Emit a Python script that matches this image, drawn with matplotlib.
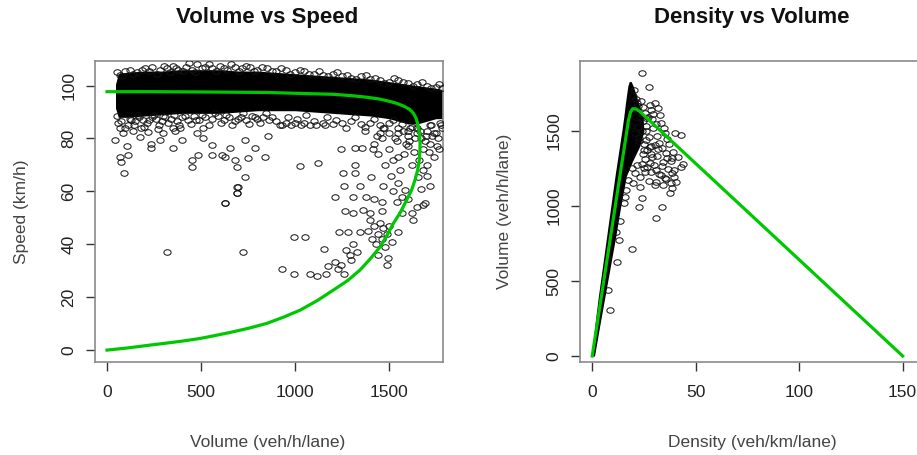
import matplotlib
matplotlib.use("Agg")
import matplotlib.pyplot as plt
from matplotlib.path import Path
from matplotlib.transforms import Affine2D

plt.rcParams['font.family'] = ['Liberation Sans', 'DejaVu Sans']

# ---------------- Left panel data: Volume vs Speed ----------------
# dense core of the observations (upper/lower edge of the black band)
band_vol = [45, 60, 100, 200, 300, 400, 500, 600, 700, 800, 900, 1000, 1100,
            1200, 1300, 1400, 1500, 1550, 1600, 1650, 1700, 1750, 1785]
band_hi = [100.5, 104.5, 105, 105.5, 105.5, 106, 106, 106, 105.5, 105.5, 105,
           104.5, 104, 103.5, 103, 102.5, 101.5, 101, 100.5, 100, 99.5, 99, 98.5]
band_lo = [91.5, 88, 88, 88.5, 89, 89.5, 89.5, 89.5, 90, 90.5, 90.5, 90.5, 90,
           89.5, 89, 88.5, 87.5, 86.5, 85.5, 85.5, 86.5, 87.5, 87.5]

top_vol = [55, 80, 120, 160, 200, 240, 280, 320, 350, 380, 420, 450, 480, 520,
           560, 600, 640, 680, 720, 760, 800, 850, 900, 950, 1000, 1050, 1100,
           1150, 1200, 1250, 1300, 1350, 1400, 1450, 1500, 1550, 1600, 1650,
           1700, 1750, 1780]
top_spd = [105, 103.5, 106, 105, 106.5, 107, 106, 106.5, 107.5, 106, 107, 106,
           108, 107, 106.5, 107.5, 106, 107, 106.5, 107, 106, 106.5, 105.5,
           106, 105, 105.5, 104.5, 104, 104.5, 103.5, 103, 103.5, 102.5, 102,
           101.5, 102, 101, 100.5, 100, 99.5, 99]
top2_vol = [70, 95, 140, 185, 225, 265, 305, 335, 365, 405, 435, 470, 505, 540,
            580, 620, 660, 700, 740, 780, 825, 875, 925, 975, 1025, 1075, 1125,
            1175, 1225, 1275, 1325, 1375, 1425, 1475, 1525, 1575, 1625, 1675,
            1725, 1765]
top2_spd = [104, 105.5, 104.5, 106, 105.5, 104.5, 107.5, 105, 106.5, 105.5,
            108.5, 105, 106.5, 108, 105.5, 106.5, 108, 105.5, 107.5, 105.5, 107,
            105.5, 106.5, 104.5, 106, 104.5, 105.5, 103.5, 105, 104, 102.5, 104,
            103, 101, 103, 101.5, 100, 101.5, 99, 100.5]

bot_vol = [60, 70, 85, 110, 130, 150, 170, 190, 210, 240, 260, 290, 310, 340,
           370, 400, 430, 460, 490, 520, 560, 590, 620, 650, 680, 710, 740, 770,
           800, 830, 860, 900, 950, 1000, 1050, 1100, 1150, 1200, 1250, 1300,
           1350, 1400, 1450, 1500, 1550, 1600, 1650, 1700, 1750, 1780]
bot_spd = [86, 84, 82, 85, 87, 86.5, 88, 87, 86, 88, 87.5, 86.5, 88, 87.5, 86.5,
           88, 87, 88.5, 87, 88, 87.5, 88.5, 87, 88, 86.5, 88, 87, 88.5, 87.5,
           88, 87, 86.5, 86, 86, 86, 86.5, 86, 85.5, 86, 86.5, 85.5, 86, 85, 86,
           84, 83, 82, 83, 82, 84]
bot2_vol = [55, 75, 95, 120, 145, 165, 195, 225, 250, 275, 300, 325, 355, 385,
            415, 445, 475, 505, 540, 575, 605, 635, 665, 695, 725, 755, 785, 815,
            845, 880, 920, 965, 1010, 1060, 1110, 1170, 1220, 1270, 1320, 1370,
            1420, 1470, 1520, 1570, 1620, 1670, 1720, 1770]
bot2_spd = [88.5, 86.5, 84, 87.5, 85, 89, 84.5, 87, 89, 85, 88.5, 86, 89, 85,
            88.5, 85.5, 87, 89, 85, 89.5, 86, 89, 85, 87.5, 89.5, 85.5, 88, 86,
            89.5, 88, 85, 88, 87.5, 89, 85, 88, 87, 84, 88, 84.5, 87.5, 84, 87,
            85.5, 84.5, 80, 85, 86]

out_vol = [92, 69, 72, 43, 105, 113, 175, 234, 234, 282, 353, 362, 399, 450, 450,
           486, 511, 557, 557, 610, 628, 654, 681, 690, 734, 698, 690, 628, 752,
           787, 840, 734, 300, 270, 220, 180, 140, 480, 510, 390, 350, 858, 1027,
           1121, 1245, 1319, 1355, 1257, 1319, 1319, 1260, 1346, 1213, 1310, 1404,
           1372, 1160, 930, 980, 1030, 1080, 1585, 1655, 1670, 1691, 1567, 996,
           1053, 1156, 929, 996, 1080, 1115, 1163, 1174, 1213, 1230, 1245, 1259,
           1234, 1280, 1346, 1270, 1290, 1310, 1300, 1330, 1266, 1310, 1360, 1400,
           1461, 1390, 1410, 1420, 1430, 1440, 1450, 1460, 1470, 1480, 1490, 1500,
           1514, 1400, 1440, 1420, 1470, 1520, 1550, 1600, 1488, 1495, 1550, 1620,
           1650, 1683, 1628, 317, 725, 628, 690, 690, 1420, 1440, 1460, 1480,
           1500, 1520, 1540, 1560, 1580, 1600, 1620, 1640, 1660, 1680, 1700, 1720,
           1740, 1760, 1700, 1720, 1680, 1740, 1500, 1550, 1450, 1600, 1510, 1540,
           1570, 1460, 1380, 1530, 1590, 1610, 1635, 1665, 1690, 1710, 1730, 1755,
           1775, 1545, 1575, 1605, 1650, 1695, 1725, 1765, 1435, 1415, 1475]
out_spd = [66.8, 73.1, 71, 79.5, 77, 73.8, 80.7, 76.4, 78, 79.5, 76.3, 83, 79.5,
           71.9, 69.4, 73.8, 80.2, 77.6, 73.8, 73.8, 73, 76.4, 71.9, 69.4, 65.6,
           61.8, 59.3, 55.5, 72.5, 76.3, 73.1, 79.5, 82, 83.5, 82.5, 84, 83, 82,
           84, 84, 84, 81, 69.6, 70.6, 75.9, 76.4, 76.4, 66.8, 66.8, 70, 62, 62,
           58, 58, 65.6, 83, 85, 85, 85, 85, 85, 60.5, 65.6, 61, 55.6, 58, 42.6,
           42.6, 38.1, 30.5, 28.7, 28.7, 28, 28.7, 31.8, 33.4, 30.5, 32, 28.7,
           44.8, 44.8, 44.8, 38, 36, 40, 34, 37, 52.5, 51.8, 53, 52, 52.5, 45, 42,
           47, 40, 44, 48, 42, 46, 39, 44, 47, 41, 49, 36, 57, 62, 60, 63, 57, 32,
           35, 44.8, 52, 54, 55, 49, 37.2, 37.2, 55.7, 59.3, 61.8, 78, 74, 80, 70,
           76, 72, 79, 68, 74, 77, 70, 80, 72, 76, 70, 78, 73, 80, 66, 62, 68, 82,
           82, 82, 82, 81, 66, 56, 52, 56, 58, 80, 78, 84, 75, 83, 79, 75, 81, 77,
           85, 73, 83, 79, 84, 81, 85, 76, 81, 76, 84]

# fitted speed-volume curve
fit_vol = [0, 229, 495, 850, 1204, 1300, 1381, 1450, 1505, 1540, 1576, 1610,
           1630, 1645, 1656, 1662, 1665, 1664, 1661, 1652, 1638, 1620, 1594, 1560,
           1523, 1490, 1452, 1400, 1346, 1280, 1204, 1120, 1027, 940, 850, 750,
           650, 560, 495, 400, 300, 229, 120, 0]
fit_spd = [97.7, 97.7, 97.6, 97.4, 96.7, 96.2, 95.6, 94.9, 94, 93.3, 92.3, 91,
           89.5, 87.5, 84.5, 81.5, 78.2, 75, 71.9, 68, 64.3, 60.5, 56.8, 52, 47.9,
           43.5, 39, 34.5, 30.3, 26.3, 22.7, 18.8, 15.1, 12.5, 10.1, 8.2, 6.6,
           5.3, 4.4, 3.4, 2.5, 1.9, 0.9, 0]

# ---------------- Right panel data: Density vs Volume ----------------
strip_q = [0, 200, 400, 600, 800, 1000, 1200, 1300, 1400, 1500, 1600, 1680,
           1750, 1800, 1830]
strip_klo = [0, 1.2, 3.0, 5.0, 7.0, 9.0, 11.0, 12.1, 13.2, 14.3, 15.3, 16.0,
             16.7, 17.2, 17.9]
strip_khi = [1.1, 3.6, 6.2, 8.8, 11.4, 13.8, 16.5, 19.5, 23, 25, 24.5, 22.5,
             21, 19.8, 18.8]

cloud_k = [23.9, 27.4, 19.8, 21.2, 22.1, 23.4, 21.6, 24.6, 25.3, 27.9, 30.3,
           28.4, 31.6, 32.7, 26.2, 24.3, 25.8, 28.9, 30.7, 26.1, 27.2, 29.6,
           33.4, 35.1, 24.8, 25.9, 27.7, 31.2, 32.4, 34.6, 36.3, 40, 42.9, 24.4,
           26.6, 29.1, 30.2, 33.5, 35.8, 37.1, 39.2, 27.9, 25.1, 31.3, 28.6, 34.1,
           36.8, 38.6, 41.5, 23.2, 25.7, 27.3, 29.8, 32.2, 33.9, 35.4, 37.9, 39.3,
           42.9, 43.9, 22.4, 24.1, 25.6, 28.3, 30.6, 31.8, 34.4, 36.2, 38.4, 39.6,
           40.3, 38.1, 20.6, 23.3, 26.3, 25.1, 28.4, 30.8, 33.2, 35.7, 37.5, 38.7,
           30.3, 23.9, 22.6, 33.8, 30.8, 19.3, 8.6, 11.4, 12.1, 7.4, 15.3, 16.4,
           17.2, 15.8, 12.8, 13.5, 19.1, 19.6, 18.8, 21.1, 20.7, 22.3, 29.4, 26.9,
           20.2, 21.8, 23.1, 22.6, 24.2, 21.4]
cloud_q = [1885, 1791, 1735, 1712, 1668, 1703, 1641, 1662, 1618, 1674, 1684,
           1637, 1651, 1607, 1586, 1569, 1531, 1583, 1548, 1497, 1462, 1518,
           1556, 1489, 1412, 1443, 1391, 1467, 1418, 1523, 1447, 1484, 1473,
           1348, 1372, 1326, 1408, 1387, 1354, 1416, 1362, 1287, 1254, 1331,
           1226, 1295, 1248, 1322, 1329, 1196, 1311, 1168, 1273, 1212, 1264,
           1186, 1297, 1237, 1258, 1282, 1431, 1283, 1224, 1347, 1159, 1381, 1139,
           1318, 1218, 1194, 1163, 1151, 1218, 1124, 1262, 1376, 1402, 1241,
           1206, 1178, 1085, 1117, 1140, 1051, 995, 995, 918, 711, 307, 829, 629,
           440, 1018, 1104, 1176, 1062, 772, 903, 1253, 1152, 1536, 1594, 1487,
           1528, 1611, 1596, 1772, 1689, 1584, 1452, 1501, 1275]

fit_k = [0, 17.5, 18.5, 19.5, 21, 23, 150]
fit_q = [0, 1570, 1625, 1648, 1648, 1630, 0]

GREEN = '#00C800'
ell = Path.unit_circle().transformed(Affine2D().scale(1.3, 1.0))
mk = dict(ls='none', marker=ell, ms=5.2, mfc='none', mec='#111111', mew=0.7)

fig = plt.figure(figsize=(9.17, 4.55), dpi=100)
ax1 = fig.add_axes([95/917, 93/455, 348/917, 301/455])
ax2 = fig.add_axes([580/917, 93/455, 338/917, 301/455])

# left
ax1.fill_between(band_vol, band_lo, band_hi, color='black', lw=0, zorder=2)
for xs, ys in ((top_vol, top_spd), (top2_vol, top2_spd), (bot_vol, bot_spd),
               (bot2_vol, bot2_spd), (out_vol, out_spd)):
    ax1.plot(xs, ys, **mk, zorder=3)
ax1.plot(fit_vol, fit_spd, color=GREEN, lw=2.3, zorder=4, solid_joinstyle='round')
ax1.set_xlim(-64, 1787)
ax1.set_ylim(-4.5, 109.3)
ax1.set_xticks([0, 500, 1000, 1500])
ax1.set_yticks([0, 20, 40, 60, 80, 100])

# right
ax2.fill_betweenx(strip_q, strip_klo, strip_khi, color='black', lw=0, zorder=2)
ax2.plot(cloud_k, cloud_q, **mk, zorder=3)
ax2.plot(fit_k, fit_q, color=GREEN, lw=2.3, zorder=4, solid_joinstyle='round')
ax2.set_xlim(-5.9, 157.4)
ax2.set_ylim(-40, 1967)
ax2.set_xticks([0, 50, 100, 150])
ax2.set_yticks([0, 500, 1000, 1500])

for ax in (ax1, ax2):
    for s in ax.spines.values():
        s.set_color('#8a8a8a')
        s.set_linewidth(1.2)
    ax.tick_params(direction='out', length=6.5, width=1.0, color='#333333',
                   labelsize=12.5, labelcolor='#222222')
    ax.tick_params(axis='x', pad=10)
    ax.tick_params(axis='y', pad=7, labelrotation=90)
    for lab in ax.get_yticklabels():
        lab.set_va('center')

tc = '#444444'
fig.text(267/917, 1 - 17/455, 'Volume vs Speed', ha='center', va='center',
         fontsize=16, fontweight='bold', color='#111111')
fig.text(752/917, 1 - 17/455, 'Density vs Volume', ha='center', va='center',
         fontsize=16, fontweight='bold', color='#111111')
fig.text(267.5/917, 1 - 442/455, 'Volume (veh/h/lane)', ha='center', va='center',
         fontsize=12.5, color=tc)
fig.text(752.5/917, 1 - 442/455, 'Density (veh/km/lane)', ha='center', va='center',
         fontsize=12.5, color=tc)
fig.text(21.7/917, 1 - 212/455, 'Speed (km/h)', ha='center', va='center',
         rotation=90, fontsize=12.5, color=tc)
fig.text(505/917, 1 - 211.7/455, 'Volume (veh/h/lane)', ha='center', va='center',
         rotation=90, fontsize=12.5, color=tc)

fig.savefig('out.png', dpi=100)
